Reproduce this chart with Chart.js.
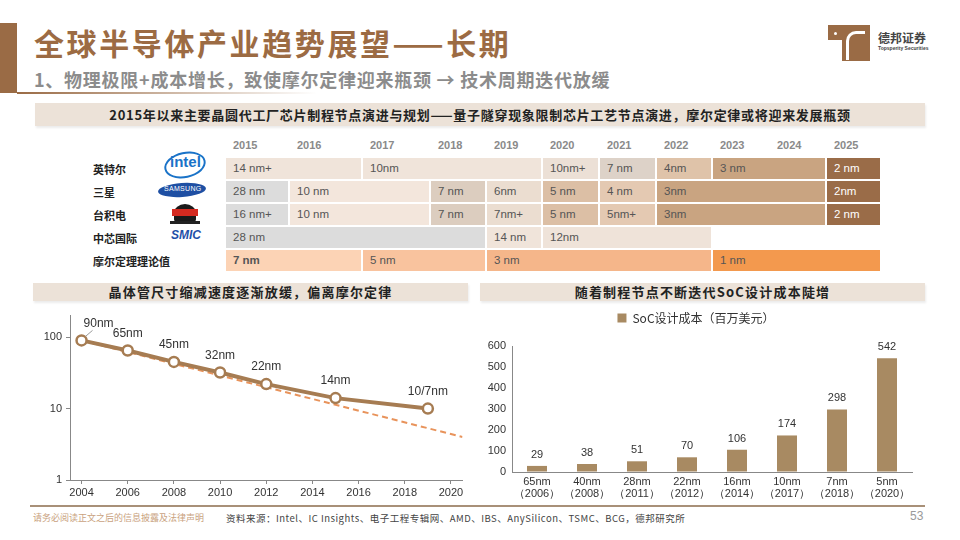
<!DOCTYPE html>
<html>
<head>
<meta charset="utf-8">
<script src="https://cdn.jsdelivr.net/npm/chart.js@4.4.1/dist/chart.umd.min.js"></script>
<style>
  body { margin: 0; width: 960px; height: 540px; background: #fff; position: relative; overflow: hidden;
         font-family: "Noto Sans CJK SC", "Noto Sans", sans-serif; }
  .abs { position: absolute; }
  .band { background: #ece2d8; color: #222; font-weight: 700; text-align: center; box-shadow: 1px 2px 2px rgba(0,0,0,0.08); }
  #grid { position: absolute; left: 226px; top: 158px; display: grid;
          grid-template-columns: 62px 71px 66px 54px 54px 55px 55px 54px 55px 55px 53px;
          grid-auto-rows: 21px; gap: 2px; }
  #grid div { font-family: "Liberation Sans", Arial, sans-serif; font-size: 11.5px; color: #555; line-height: 21px; padding-left: 7px; white-space: nowrap; }
  .yr { position: absolute; top: 139px; font-family: "Liberation Sans", Arial, sans-serif; font-size: 11px; font-weight: 700; color: #8a8a8a; }
  .rowlab { position: absolute; left: 93px; font-size: 11px; font-weight: 700; color: #222; }
</style>
</head>
<body>
<!-- title -->
<div class="abs" style="left:0;top:23px;width:17px;height:70px;background:#9a6b45"></div>
<div class="abs" style="left:17px;top:92px;width:300px;height:2px;background:linear-gradient(to right,#9a6b45,rgba(154,107,69,0))"></div>
<div class="abs" style="left:34px;top:20px;font-size:30px;font-weight:700;color:#9c6b43;letter-spacing:2.6px">全球半导体产业趋势展望——长期</div>
<div class="abs" style="left:34px;top:66px;font-size:18px;font-weight:700;color:#8c8c8c;letter-spacing:0.75px">1、物理极限+成本增长，致使摩尔定律迎来瓶颈 → 技术周期迭代放缓</div>

<!-- logo -->
<div class="abs" style="left:828px;top:25px;width:42px;height:15px;background:#9a6b45"></div>
<div class="abs" style="left:842px;top:25px;width:28px;height:36px;background:#9a6b45"></div>
<div class="abs" style="left:846px;top:31px;width:16px;height:26px;border-left:3px solid #fff;border-top:3px solid #fff;border-radius:10px 0 0 0"></div>
<div class="abs" style="left:834px;top:32px;width:3px;height:3px;background:#fff;border-radius:2px"></div>
<div class="abs" style="left:878px;top:29px;font-size:12px;font-weight:700;color:#444">德邦证券</div>
<div class="abs" style="left:878px;top:45px;font-size:5px;font-weight:700;color:#444;font-family:'Liberation Sans'">Topsperity Securities</div>

<!-- table section -->
<div class="abs band" style="left:35px;top:103px;width:890px;height:23px;line-height:23px;font-size:13px;letter-spacing:0.7px">2015年以来主要晶圆代工厂芯片制程节点演进与规划——量子隧穿现象限制芯片工艺节点演进，摩尔定律或将迎来发展瓶颈</div>
<div id="years"></div>
<div id="rowlabels"></div>
<!-- logos -->
<div class="abs" style="left:164px;top:152px;width:38px;height:22px;border:2px solid #1a73c8;border-radius:50%;transform:rotate(-12deg)"></div>
<div class="abs" style="left:170px;top:153px;font-family:'Liberation Sans';font-weight:700;font-size:15px;color:#1a73c8">intel</div>
<div class="abs" style="left:158px;top:183px;width:48px;height:14px;background:#1e4fa3;border-radius:50%;transform:rotate(-4deg)"></div>
<div class="abs" style="left:164px;top:185px;font-family:'Liberation Sans';font-size:7px;color:#fff;letter-spacing:0.3px">SAMSUNG</div>
<div class="abs" style="left:174px;top:204px;width:22px;height:18px;background:#1a1a1a;border-radius:50% 50% 3px 3px"></div>
<div class="abs" style="left:172px;top:209px;width:26px;height:7px;background:#d42a20"></div>
<div class="abs" style="left:170px;top:221px;width:30px;height:3px;background:#222"></div>
<div class="abs" style="left:171px;top:228px;font-family:'Liberation Sans';font-weight:700;font-style:italic;font-size:12px;color:#1f4fa8">SMIC</div>
<div id="grid"></div>

<!-- lower left -->
<div class="abs band" style="left:33px;top:283px;width:435px;height:18px;line-height:18px;font-size:13px;letter-spacing:1.2px">晶体管尺寸缩减速度逐渐放缓，偏离摩尔定律</div>
<div class="abs" style="left:30px;top:305px;width:440px;height:200px"><canvas id="lineChart"></canvas></div>

<!-- lower right -->
<div class="abs band" style="left:480px;top:283px;width:445px;height:18px;line-height:18px;font-size:13px;letter-spacing:1.2px">随着制程节点不断迭代SoC设计成本陡增</div>
<div class="abs" style="left:480px;top:302px;width:445px;height:203px"><canvas id="barChart"></canvas></div>

<!-- footer -->
<div class="abs" style="left:30px;top:505px;width:895px;height:2px;background:#a89078"></div>
<div class="abs" style="left:33px;top:511px;font-size:9px;color:#c9a27e">请务必阅读正文之后的信息披露及法律声明</div>
<div class="abs" style="left:226px;top:511px;font-size:9.5px;color:#444;letter-spacing:0.5px">资料来源：Intel、IC Insights、电子工程专辑网、AMD、IBS、AnySilicon、TSMC、BCG，德邦研究所</div>
<div class="abs" style="left:910px;top:509px;font-size:12px;color:#9a9a9a;font-family:'Liberation Sans'">53</div>

<script>
// ---- node roadmap table ----
const roadmapYears = [2015, 2016, 2017, 2018, 2019, 2020, 2021, 2022, 2023, 2024, 2025];
const companies = ["英特尔", "三星", "台积电", "中芯国际", "摩尔定理理论值"];
// [node label, number of years covered]
const intelNodes = [["14 nm+", 2], ["10nm", 3], ["10nm+", 1], ["7 nm", 1], ["4nm", 1], ["3 nm", 2], ["2 nm", 1]];
const samsungNodes = [["28 nm", 1], ["10 nm", 2], ["7 nm", 1], ["6nm", 1], ["5 nm", 1], ["4 nm", 1], ["3nm", 3], ["2nm", 1]];
const tsmcNodes = [["16 nm+", 1], ["10 nm", 2], ["7 nm", 1], ["7nm+", 1], ["5 nm", 1], ["5nm+", 1], ["3nm", 3], ["2 nm", 1]];
const smicNodes = [["28 nm", 4], ["14 nm", 1], ["12nm", 3]];
const mooreNodes = [["7 nm", 2], ["5 nm", 2], ["3 nm", 4], ["1 nm", 3]];

const roadmap = [intelNodes, samsungNodes, tsmcNodes, smicNodes, mooreNodes];
const roadmapColors = [
  ["#f0e4da", "#f0e4da", "#ece0d6", "#ddd2c8", "#dfc3a9", "#c9a481", "#9a6c48"],
  ["#dcdcdc", "#f3e6dc", "#dccdbf", "#ebddd0", "#dcbfa5", "#e4c9b2", "#c9a481", "#9a6c48"],
  ["#dcdcdc", "#f3e6dc", "#dccdbf", "#ebddd0", "#dcbfa5", "#e4c9b2", "#c9a481", "#9a6c48"],
  ["#dcdcdc", "#f0e4da", "#efe3d9"],
  ["#fcd3b5", "#f9c39e", "#f5b68a", "#f3994e"],
];

const yearOffsets = [0, 64, 137, 205, 261, 317, 374, 431, 487, 544, 601];
const yearsBox = document.getElementById("years");
roadmapYears.forEach((y, i) => {
  const d = document.createElement("div");
  d.className = "yr";
  d.style.left = (233 + yearOffsets[i]) + "px";
  d.textContent = y;
  yearsBox.appendChild(d);
});
const labelsBox = document.getElementById("rowlabels");
companies.forEach((c, i) => {
  const d = document.createElement("div");
  d.className = "rowlab";
  d.style.top = (161 + i * 23) + "px";
  d.textContent = c;
  labelsBox.appendChild(d);
});
const grid = document.getElementById("grid");
roadmap.forEach((row, r) => {
  let col = 1;
  row.forEach((seg, k) => {
    const d = document.createElement("div");
    d.style.gridRow = r + 1;
    d.style.gridColumn = col + " / span " + seg[1];
    d.style.background = roadmapColors[r][k];
    if (roadmapColors[r][k] === "#9a6c48") d.style.color = "#fff";
    if (r === 4 && k === 0) d.style.fontWeight = "700";
    d.textContent = seg[0];
    grid.appendChild(d);
    col += seg[1];
  });
});

// ---- transistor node size (log scale) ----
const nodeYears = [2004, 2006, 2008, 2010, 2012, 2015, 2019];
const nodeSizes = [90, 65, 45, 32, 22, 14, 10];
const nodeLabels = ["90nm", "65nm", "45nm", "32nm", "22nm", "14nm", "10/7nm"];
const mooreYears = [2004, 2020.5];
const mooreSizes = [90, 4];
const xTickYears = [2004, 2006, 2008, 2010, 2012, 2014, 2016, 2018, 2020];

const nodeLabelPlugin = {
  id: "nodeLabels",
  afterDatasetsDraw(chart) {
    const meta = chart.getDatasetMeta(0);
    const ctx = chart.ctx;
    ctx.save();
    ctx.font = "12px 'Liberation Sans', Arial";
    ctx.fillStyle = "#333";
    ctx.textAlign = "center";
    ctx.textBaseline = "middle";
    meta.data.forEach((pt, i) => {
      if (i === 0) {
        ctx.strokeStyle = "#999";
        ctx.lineWidth = 1;
        ctx.beginPath();
        ctx.moveTo(pt.x + 4, pt.y - 4);
        ctx.lineTo(pt.x + 11, pt.y - 10);
        ctx.stroke();
        ctx.fillText(nodeLabels[i], pt.x + 17, pt.y - 17);
      } else {
        ctx.fillText(nodeLabels[i], pt.x, pt.y - 17);
      }
    });
    ctx.restore();
  },
};

new Chart(document.getElementById("lineChart"), {
  type: "line",
  data: {
    datasets: [
      {
        label: "制程节点",
        data: nodeYears.map((x, i) => ({ x: x, y: nodeSizes[i] })),
        borderColor: "#a67c52",
        borderWidth: 4,
        pointRadius: 5,
        pointBorderWidth: 2.5,
        pointBackgroundColor: "#fff",
        pointBorderColor: "#a67c52",
        order: 1,
      },
      {
        label: "摩尔定律",
        data: mooreYears.map((x, i) => ({ x: x, y: mooreSizes[i] })),
        borderColor: "#e8935b",
        borderWidth: 2,
        borderDash: [6, 4],
        pointRadius: 0,
        order: 2,
      },
    ],
  },
  options: {
    responsive: true,
    maintainAspectRatio: false,
    animation: false,
    layout: { padding: { top: 8, right: 5, bottom: 0, left: 0 } },
    plugins: { legend: { display: false }, tooltip: { enabled: false } },
    scales: {
      x: {
        type: "linear",
        min: 2003.5,
        max: 2020.5,
        afterBuildTicks: (scale) => { scale.ticks = xTickYears.map((v) => ({ value: v })); },
        afterFit: (scale) => { scale.height = 25; },
        ticks: { font: { size: 11, family: "Liberation Sans" }, color: "#333", padding: 2, maxRotation: 0, autoSkip: false,
                 callback: (v) => String(v) },
        grid: { drawOnChartArea: false, tickLength: 4, color: "#888" },
        border: { color: "#888" },
      },
      y: {
        type: "logarithmic",
        min: 1,
        max: 200,
        afterFit: (scale) => { scale.width = 40; },
        afterBuildTicks: (scale) => { scale.ticks = [1, 10, 100].map((v) => ({ value: v })); },
        ticks: { font: { size: 11, family: "Liberation Sans" }, color: "#333", padding: 4, callback: (v) => String(v) },
        grid: { drawOnChartArea: false, tickLength: 4, color: "#888" },
        border: { color: "#888" },
      },
    },
  },
  plugins: [nodeLabelPlugin],
});

// ---- SoC design cost ----
const socNodes = [["65nm", "（2006）"], ["40nm", "（2008）"], ["28nm", "（2011）"], ["22nm", "（2012）"],
                  ["16nm", "（2014）"], ["10nm", "（2017）"], ["7nm", "（2018）"], ["5nm", "（2020）"]];
const socCost = [29, 38, 51, 70, 106, 174, 298, 542];

const barLabelPlugin = {
  id: "barLabels",
  afterDatasetsDraw(chart) {
    const meta = chart.getDatasetMeta(0);
    const ctx = chart.ctx;
    ctx.save();
    ctx.font = "11px 'Liberation Sans', Arial";
    ctx.fillStyle = "#333";
    ctx.textAlign = "center";
    ctx.textBaseline = "middle";
    meta.data.forEach((bar, i) => ctx.fillText(String(socCost[i]), bar.x, bar.y - 11));
    ctx.restore();
  },
};

// extra gap under the legend
const legendGap = {
  id: "legendGap",
  beforeInit(chart) {
    const fit = chart.legend.fit;
    chart.legend.fit = function () {
      fit.bind(chart.legend)();
      this.height += 12;
    };
  },
};

new Chart(document.getElementById("barChart"), {
  type: "bar",
  data: {
    labels: socNodes,
    datasets: [
      {
        label: "SoC设计成本（百万美元）",
        data: socCost,
        backgroundColor: "#a88a62",
        barPercentage: 0.4,
        categoryPercentage: 1,
      },
    ],
  },
  options: {
    responsive: true,
    maintainAspectRatio: false,
    animation: false,
    layout: { padding: { top: 0, right: 13, bottom: 0, left: 0 } },
    plugins: {
      tooltip: { enabled: false },
      legend: {
        position: "top",
        labels: {
          boxWidth: 9,
          boxHeight: 9,
          padding: 10,
          color: "#333",
          font: { size: 12, family: "Noto Sans CJK SC" },
        },
      },
    },
    scales: {
      x: {
        afterFit: (scale) => { scale.height = 33; },
        ticks: { font: { size: 11, family: "Liberation Sans", lineHeight: 1.1 }, color: "#333", padding: 4, maxRotation: 0, autoSkip: false },
        grid: { display: false, drawTicks: false },
        border: { color: "#888" },
      },
      y: {
        min: 0,
        max: 600,
        afterFit: (scale) => { scale.width = 32; },
        ticks: { stepSize: 100, font: { size: 11, family: "Liberation Sans" }, color: "#333", padding: 6 },
        grid: { drawOnChartArea: false, drawTicks: false },
        border: { color: "#888" },
      },
    },
  },
  plugins: [barLabelPlugin, legendGap],
});
</script>
</body>
</html>
